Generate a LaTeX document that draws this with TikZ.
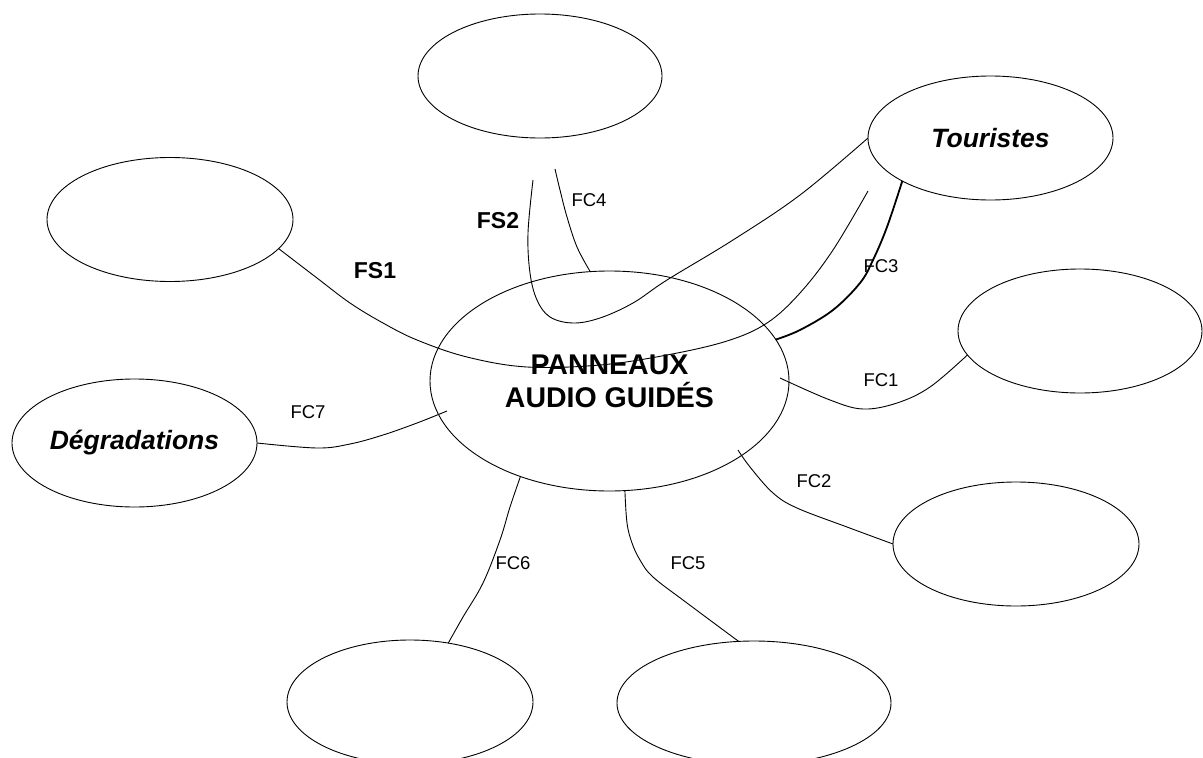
\documentclass[tikz,border=0pt]{standalone}
\usepackage{fontspec}
\setmainfont{Liberation Sans}
\usetikzlibrary{shapes.geometric}
\tikzset{
  ell/.style={draw, ellipse, inner sep=0pt, outer sep=0pt, line width=0.9pt},
  conn/.style={line width=0.9pt},
  thickconn/.style={line width=1.8pt},
  fslabel/.style={font=\fontsize{23}{23}\selectfont\bfseries, inner sep=0pt},
  fclabel/.style={font=\fontsize{18.5}{18.5}\selectfont, inner sep=0pt},
  actor/.style={font=\fontsize{26.5}{26.5}\selectfont\bfseries\itshape}
}
\begin{document}
\begin{tikzpicture}[x=1pt, y=-1pt]
\useasboundingbox (0,0) rectangle (1203,758);
% ellipses
\node[ell, minimum width=359, minimum height=220, align=center,
      font=\fontsize{28.5}{33}\selectfont\bfseries] (c) at (609.5,381) {PANNEAUX\\AUDIO GUIDÉS};
\node[ell, minimum width=244, minimum height=124] (tp) at (540,76) {};
\node[ell, minimum width=245, minimum height=124, actor] (t) at (990.5,138) {Touristes};
\node[ell, minimum width=246, minimum height=124] (tl) at (170,219.5) {};
\node[ell, minimum width=244, minimum height=124] (rt) at (1080,331) {};
\node[ell, minimum width=246, minimum height=124] (rb) at (1016,544) {};
\node[ell, minimum width=245, minimum height=128, actor] (d) at (134.5,443) {Dégradations};
\node[ell, minimum width=246, minimum height=124] (bl) at (410,702) {};
\node[ell, minimum width=274, minimum height=124] (br) at (754,703) {};
% free ends
\coordinate (fs1e) at (868,191);
\coordinate (fs2s) at (533,180);
\coordinate (fc4s) at (555,169);
\coordinate (fc1s) at (780,378);
\coordinate (fc2s) at (738,450);
\coordinate (fc7e) at (447,411);
% FS1
\draw[conn] plot[smooth, tension=0.6] coordinates {(tl.-15) (317,278) (350,303) (383,323) (417,340) (467,357) (527,367) (600,365) (667,355) (727,341) (767,323) (800,293) (833,250) (fs1e)};
% FS2
\draw[conn] plot[smooth, tension=0.6] coordinates {(fs2s) (528,233) (530,273) (537,300) (550,317) (573,323) (600,318) (633,303) (667,280) (733,240) (800,195) (t.180)};
% FC4
\draw[conn] plot[smooth, tension=0.6] coordinates {(fc4s) (560,190) (567,217) (577,247) (c.100.6)};
% FC3
\draw[thickconn] plot[smooth, tension=0.6] coordinates {(t.-154.3) (887,227) (873,260) (860,283) (833,310) (800,330) (c.14.2)};
% FC1
\draw[conn] plot[smooth, tension=0.6] coordinates {(fc1s) (830,400) (863,409) (897,403) (930,387) (rt.192.9)};
% FC2
\draw[conn] plot[smooth, tension=0.6] coordinates {(fc2s) (750,467) (773,493) (797,508) (847,527) (rb.west)};
% FC5
\draw[conn] plot[smooth, tension=0.6] coordinates {(c.-82.5) (627,523) (632,543) (640,560) (653,577) (687,603) (br.104.9)};
% FC6
\draw[conn] plot[smooth, tension=0.6] coordinates {(c.-133.9) (510,507) (500,540) (483,583) (463,617) (bl.57.65)};
% FC7
\draw[conn] plot[smooth, tension=0.6] coordinates {(d.east) (317,448) (350,444) (383,435) (417,423) (fc7e)};
% labels
\node[fslabel] (lfs1) at (375,271) {FS1};
\node[fslabel] (lfs2) at (498,221) {FS2};
\node[fclabel] (lfc4) at (589,200) {FC4};
\node[fclabel] (lfc3) at (881,266) {FC3};
\node[fclabel] (lfc1) at (881,380) {FC1};
\node[fclabel] (lfc2) at (814,481) {FC2};
\node[fclabel] (lfc6) at (513,563) {FC6};
\node[fclabel] (lfc5) at (688,563) {FC5};
\node[fclabel] (lfc7) at (308,412) {FC7};
\end{tikzpicture}
\end{document}
